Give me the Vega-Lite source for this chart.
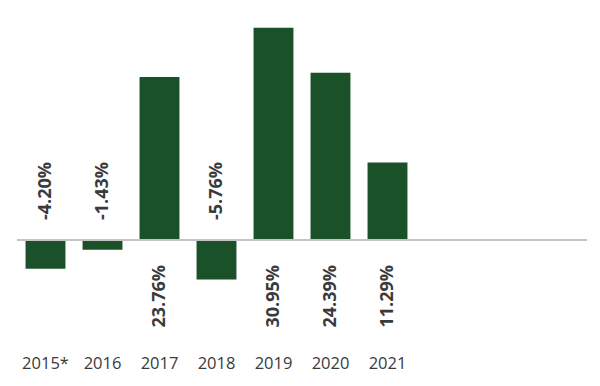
{
  "$schema": "https://vega.github.io/schema/vega-lite/v6.json",
  "width": 570,
  "height": 340,
  "autosize": {"type": "none"},
  "padding": {"left": 17, "top": 0, "right": 13, "bottom": 46},
  "background": "white",
  "config": {"view": {"stroke": null}, "font": "Open Sans"},
  "data": {
    "values": [
      {"year": "2015*", "ret": -4.20, "label": "-4.20%"},
      {"year": "2016", "ret": -1.43, "label": "-1.43%"},
      {"year": "2017", "ret": 23.76, "label": "23.76%"},
      {"year": "2018", "ret": -5.76, "label": "-5.76%"},
      {"year": "2019", "ret": 30.95, "label": "30.95%"},
      {"year": "2020", "ret": 24.39, "label": "24.39%"},
      {"year": "2021", "ret": 11.29, "label": "11.29%"}
    ]
  },
  "layer": [
    {
      "mark": {"type": "bar", "color": "#1b5128"},
      "encoding": {
        "x": {
          "field": "year",
          "type": "nominal",
          "sort": null,
          "scale": {
            "domain": ["2015*", "2016", "2017", "2018", "2019", "2020", "2021", " ", "  ", "   "],
            "paddingInner": 0.3,
            "paddingOuter": 0.15
          },
          "axis": {
            "title": null,
            "domain": false,
            "ticks": false,
            "tickSize": 0,
            "labelAngle": 0,
            "labelPadding": 15,
            "labelFontSize": 16.5,
            "labelColor": "#3a3a3a",
            "labelFont": "Open Sans"
          }
        },
        "y": {
          "field": "ret",
          "type": "quantitative",
          "scale": {"domain": [-14.58, 35], "nice": false, "zero": false},
          "axis": null
        }
      }
    },
    {
      "mark": {"type": "rule", "color": "#c4c4c4", "strokeWidth": 1.5},
      "encoding": {"y": {"datum": 0, "type": "quantitative"}}
    },
    {
      "transform": [{"filter": "datum.ret >= 0"}],
      "mark": {"type": "text", "angle": 270, "align": "right", "baseline": "middle", "dx": -25, "fontSize": 18, "fontWeight": "bold", "color": "#3a3a3a", "font": "Open Sans"},
      "encoding": {
        "x": {"field": "year", "type": "nominal", "sort": null},
        "y": {"datum": 0, "type": "quantitative"},
        "text": {"field": "label"}
      }
    },
    {
      "transform": [{"filter": "datum.ret < 0"}],
      "mark": {"type": "text", "angle": 270, "align": "left", "baseline": "middle", "dx": 20, "fontSize": 18, "fontWeight": "bold", "color": "#3a3a3a", "font": "Open Sans"},
      "encoding": {
        "x": {"field": "year", "type": "nominal", "sort": null},
        "y": {"datum": 0, "type": "quantitative"},
        "text": {"field": "label"}
      }
    }
  ]
}
